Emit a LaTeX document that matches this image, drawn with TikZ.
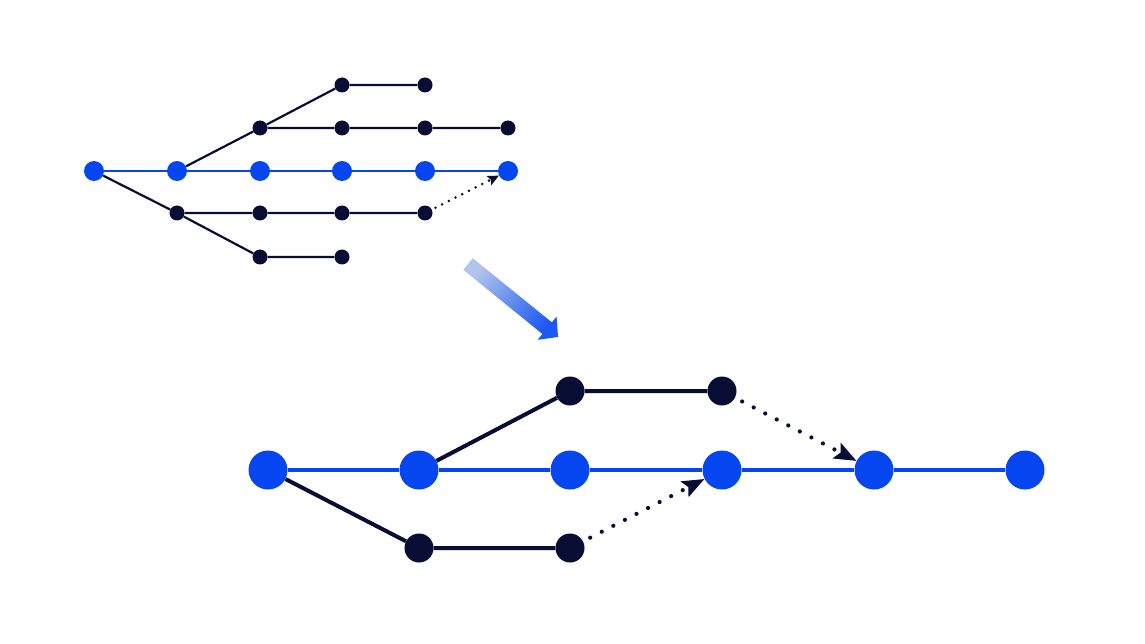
\documentclass[tikz,border=0pt]{standalone}
\usetikzlibrary{arrows.meta,calc}
\definecolor{gblue}{RGB}{5,70,240}
\definecolor{gnavy}{RGB}{8,13,52}
\definecolor{arlight}{RGB}{178,198,236}
\definecolor{ardark}{RGB}{28,88,242}
\pgfdeclarehorizontalshading{arrowshade}{100bp}{color(0bp)=(arlight); color(25bp)=(arlight); color(75bp)=(ardark); color(100bp)=(ardark)}
\tikzset{
  sb/.style={circle,fill=gblue,inner sep=0pt,minimum size=20pt},
  sd/.style={circle,fill=gnavy,inner sep=0pt,minimum size=15pt},
  bb/.style={circle,fill=gblue,inner sep=0pt,minimum size=39pt},
  bd/.style={circle,fill=gnavy,inner sep=0pt,minimum size=29pt},
  sbl/.style={draw=gblue,line width=2.2pt},
  sdl/.style={draw=gnavy,line width=2.2pt},
  bbl/.style={draw=gblue,line width=3.4pt},
  bdl/.style={draw=gnavy,line width=4pt},
  sdot/.style={draw=gnavy,line width=2.8pt,line cap=round,dash pattern=on 0pt off 7.5pt,
    shorten <=4pt,-{Stealth[length=11pt,width=10pt,inset=2pt]}},
  bdot/.style={draw=gnavy,line width=4.2pt,line cap=round,dash pattern=on 0pt off 13pt,
    shorten <=8pt,-{Stealth[length=22pt,width=17pt,inset=4pt]}},
}
\begin{document}
\begin{tikzpicture}[x=1pt,y=-1pt]
\useasboundingbox (0,0) rectangle (1145,644);
% ---------- top small graph ----------
\foreach \i/\x in {1/94,2/177,3/260,4/342,5/425,6/508}
  \node[sb] (m\i) at (\x,171) {};
\foreach \i/\x in {3/260,4/342,5/425,6/508}
  \node[sd] (u\i) at (\x,128) {};
\foreach \i/\x in {4/342,5/425}
  \node[sd] (uu\i) at (\x,85) {};
\foreach \i/\x in {2/177,3/260,4/342,5/425}
  \node[sd] (l\i) at (\x,213) {};
\foreach \i/\x in {3/260,4/342}
  \node[sd] (ll\i) at (\x,257) {};
\draw[sbl] (m1) -- (m2) -- (m3) -- (m4) -- (m5) -- (m6);
\draw[sdl] (m2) -- (u3) -- (u4) -- (u5) -- (u6);
\draw[sdl] (u3) -- (uu4) -- (uu5);
\draw[sdl] (m1) -- (l2) -- (l3) -- (l4) -- (l5);
\draw[sdl] (l2) -- (ll3) -- (ll4);
\draw[sdot] (l5) -- (m6);
% ---------- gradient arrow ----------
\coordinate (T) at (468,264);
\coordinate (P) at (558,337);
\coordinate (B) at ($(P)!14pt!(T)$);
\shade[shading=arrowshade,shading angle=-38]
  ($(T)!7.5pt!90:(P)$) -- ($(B)!7.5pt!-90:(T)$) -- ($(B)!15pt!-90:(T)$) -- (P)
  -- ($(B)!15pt!90:(T)$) -- ($(B)!7.5pt!90:(T)$) -- ($(T)!7.5pt!-90:(P)$) -- cycle;
% ---------- bottom big graph ----------
\foreach \i/\x in {1/268,2/419,3/570,4/722,5/874,6/1025}
  \node[bb] (M\i) at (\x,470) {};
\node[bd] (U3) at (570,391) {};
\node[bd] (U4) at (722,391) {};
\node[bd] (L2) at (419,548) {};
\node[bd] (L3) at (570,548) {};
\draw[bbl] (M1) -- (M2) -- (M3) -- (M4) -- (M5) -- (M6);
\draw[bdl] (M2) -- (U3) -- (U4);
\draw[bdl] (M1) -- (L2) -- (L3);
\draw[bdot] (U4) -- (M5);
\draw[bdot] (L3) -- (M4);
\end{tikzpicture}
\end{document}
